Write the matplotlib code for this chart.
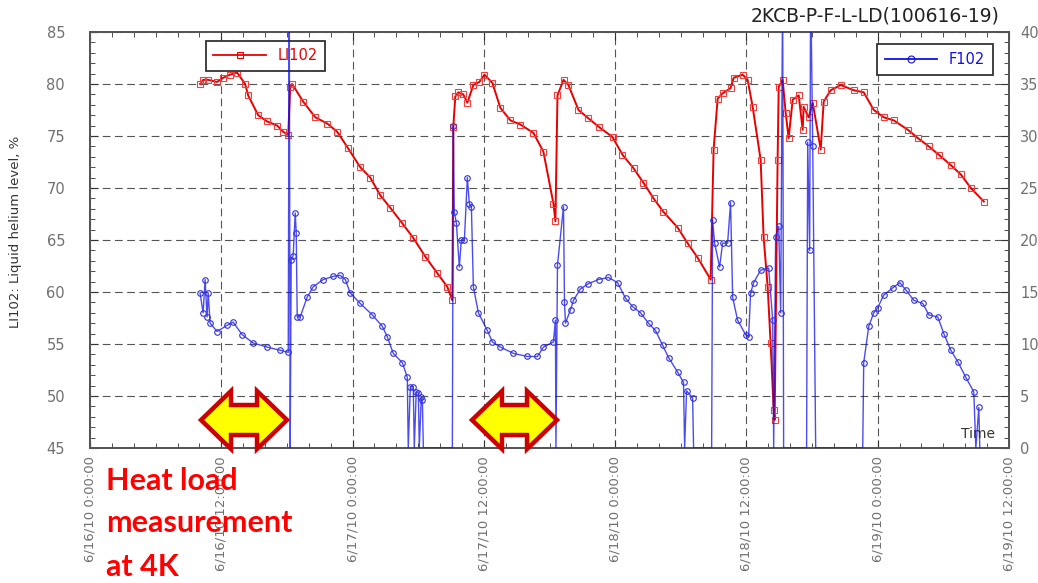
import numpy as np
import matplotlib
matplotlib.use("Agg")
import matplotlib.pyplot as plt
from matplotlib.patches import Polygon
from matplotlib.lines import Line2D

# hours since 6/16/10 0:00:00
li102_h = [10.06, 10.34, 10.80, 11.62, 12.17, 12.81, 13.45, 14.18, 14.46, 15.37, 16.19, 17.11, 17.66, 18.12,
           18.30, 18.48, 19.49, 20.59, 21.68, 22.60, 23.60, 24.70, 25.62, 26.53, 27.45, 28.55, 29.55, 30.65,
           31.75, 32.66, 33.12,
           33.21, 33.39, 33.67, 34.12, 34.49, 35.04, 35.59, 36.05, 36.78, 37.51, 38.43, 39.34, 40.53, 41.44,
           42.36, 42.54,
           42.73, 43.28, 43.73, 44.65, 45.56, 46.48, 47.76, 48.67, 49.68, 50.59, 51.51, 52.42, 53.71, 54.62,
           55.54, 56.73,
           57.00, 57.37, 57.82, 58.55, 58.83, 59.65, 60.11, 60.57, 61.30, 61.57, 61.94, 62.21, 62.49, 62.58,
           62.85, 62.95, 63.31, 63.59, 63.86, 64.23, 64.78, 65.14, 65.23, 65.69, 66.06, 66.79, 67.06, 67.70,
           68.62, 69.81, 70.72, 71.64, 72.55, 73.47, 74.75, 75.66, 76.67, 77.58, 78.68, 79.60, 80.51, 81.70]
li102_v = [80.0, 80.4, 80.4, 80.2, 80.6, 80.9, 81.1, 80.0, 78.9, 77.0, 76.4, 76.0, 75.4, 75.1,
           79.7, 80.0, 78.3, 76.8, 76.2, 75.4, 73.8, 72.0, 71.0, 69.3, 68.1, 66.6, 65.2, 63.4,
           61.8, 60.5, 59.2,
           75.9, 78.8, 79.2, 79.0, 78.2, 79.9, 80.2, 80.9, 80.1, 77.7, 76.5, 76.1, 75.3, 73.5,
           68.5, 66.8,
           78.9, 80.4, 79.9, 77.5, 76.7, 75.9, 74.9, 73.2, 71.9, 70.5, 69.0, 67.7, 66.2, 64.7,
           63.3, 61.2,
           73.7, 78.6, 79.1, 79.6, 80.6, 80.9, 80.4, 77.8, 72.7, 65.3, 60.5, 55.1, 48.7, 47.7,
           72.7, 79.7, 80.4, 77.2, 74.8, 78.5, 78.9, 75.6, 77.8, 76.8, 78.2, 73.7, 78.3, 79.4,
           79.9, 79.4, 79.2, 77.5, 76.8, 76.5, 75.6, 74.8, 74.0, 73.2, 72.2, 71.3, 70.0, 68.7]

f102_h = [10.06, 10.34, 10.52, 10.70, 10.80, 10.98, 11.62, 12.53, 13.08, 13.91, 14.91, 16.19, 17.38, 18.12,
          18.21, 18.30, 18.39, 18.57, 18.76, 18.85, 18.94, 19.21, 19.85, 20.40, 21.32, 22.23, 22.87, 23.33,
          23.79, 24.70, 25.80, 26.72, 27.17, 27.72, 28.55, 29.00, 29.09, 29.28, 29.55, 29.64, 29.82, 30.01,
          30.10, 30.28, 30.38, 30.47, 33.12,
          33.21, 33.30, 33.49, 33.76, 33.94, 34.22, 34.49, 34.67, 34.86, 35.04, 35.50, 36.32, 36.78, 37.51,
          38.70, 39.98, 40.90, 41.44, 42.36, 42.54, 42.59,
          42.73, 43.28, 43.37, 43.46, 43.92, 44.19, 44.83, 45.56, 46.48, 47.39, 48.22, 48.95, 49.59, 50.32,
          51.05, 51.69, 52.33, 52.88, 53.71, 54.25, 54.35, 54.53, 55.08, 55.17, 56.82,
          56.91, 57.09, 57.55, 57.82, 58.28, 58.55, 58.74, 59.19, 59.92, 60.20, 60.38, 60.66, 61.30, 62.03,
          62.40, 62.49, 62.67, 62.95, 63.13, 63.31, 63.40, 65.50, 65.60, 65.78, 65.87, 66.06, 66.33, 70.63,
          70.72, 71.18, 71.64, 72.00, 72.55, 73.38, 74.02, 74.57, 75.30, 76.12, 76.67, 77.49, 78.04, 78.68,
          79.32, 80.05, 80.78, 80.97, 81.24, 81.33]
f102_v = [14.9, 13.0, 16.2, 12.6, 14.9, 12.0, 11.2, 11.8, 12.1, 10.9, 10.1, 9.7, 9.4, 9.2,
          45.0, 0.0, 18.1, 18.5, 22.6, 20.7, 12.6, 12.6, 14.5, 15.5, 16.2, 16.5, 16.6, 16.2,
          14.9, 13.9, 12.8, 11.7, 10.7, 9.1, 8.2, 6.8, 0.0, 5.9, 5.9, 0.0, 5.4, 5.3,
          0.0, 4.9, 4.6, 0.0, 0.0,
          31.0, 22.7, 21.6, 17.4, 20.0, 20.0, 26.0, 23.5, 23.2, 15.5, 13.0, 11.3, 10.2, 9.7,
          9.1, 8.8, 8.8, 9.7, 10.2, 12.3, 0.0,
          17.6, 23.2, 14.0, 12.0, 13.3, 14.2, 15.3, 15.8, 16.2, 16.4, 15.9, 14.4, 13.6, 13.0,
          12.0, 11.3, 9.9, 8.7, 7.3, 6.3, 0.0, 5.5, 4.8, 0.0, 0.0,
          21.9, 19.7, 17.4, 19.7, 19.7, 23.6, 14.5, 12.3, 10.9, 10.7, 14.9, 15.9, 17.1, 17.3,
          12.3, 0.0, 20.3, 21.3, 13.0, 45.0, 0.0, 0.0, 29.4, 19.0, 45.0, 29.0, 0.0, 0.0,
          8.2, 11.7, 13.0, 13.5, 14.7, 15.4, 15.9, 15.2, 14.2, 13.9, 12.8, 12.6, 11.0, 9.4,
          8.3, 6.8, 5.4, 0.0, 3.9, 0.0]

x_ticks = [0, 12, 24, 36, 48, 60, 72, 84]
x_labels = ["6/16/10 0:00:00", "6/16/10 12:00:00", "6/17/10 0:00:00", "6/17/10 12:00:00",
            "6/18/10 0:00:00", "6/18/10 12:00:00", "6/19/10 0:00:00", "6/19/10 12:00:00"]

W, H = 1038, 583
fig = plt.figure(figsize=(W / 100, H / 100), dpi=100)
ax = fig.add_axes([90 / W, 1 - 448 / H, 919 / W, 416 / H])
ax2 = ax.twinx()

red = "#e80000"
blue = "#1010e8"
gray = "#707070"

ax.plot(li102_h, li102_v, color=red, lw=1.4, marker="s", ms=4, mfc="none", mec="#f04040", mew=0.8, zorder=3)

fh = np.array(f102_h)
fv = np.array(f102_v)
ax2.plot(fh, fv, color=blue, lw=1.0, alpha=0.75, zorder=3)
keep = (fv > 0) & (fv < 40)
ax2.plot(fh[keep], fv[keep], ls="none", marker="o", ms=4, mfc="none", mec="#3030e0", mew=0.8, zorder=3)

ax.set_xlim(0, 84)
ax.set_ylim(45, 85)
ax2.set_ylim(0, 40)
ax.set_xticks(x_ticks)
ax.set_xticklabels(x_labels, rotation=90, fontsize=9.5, color=gray)
ax.set_xticks(np.arange(0, 85, 2), minor=True)
ax.set_yticks(np.arange(45, 86, 5))
ax.set_yticks(np.arange(45, 86, 1), minor=True)
ax2.set_yticks(np.arange(0, 41, 5))
ax2.set_yticks(np.arange(0, 41, 1), minor=True)

ax.tick_params(axis="x", which="both", direction="in", top=True, colors="#333", labelcolor=gray, pad=6)
ax.tick_params(axis="x", which="major", length=6)
ax.tick_params(axis="x", which="minor", length=3.5)
ax.tick_params(axis="y", which="both", direction="in", labelsize=10.5, colors="#333", labelcolor=gray, pad=18)
ax.tick_params(axis="y", which="major", length=6)
ax.tick_params(axis="y", which="minor", length=3.5)
ax2.tick_params(axis="y", which="both", direction="in", labelsize=10.5, colors="#333", labelcolor=gray, pad=8)
ax2.tick_params(axis="y", which="major", length=6)
ax2.tick_params(axis="y", which="minor", length=3.5)

ax.grid(True, which="major", color="#555", ls=(0, (7, 4)), lw=0.8)
for a in (ax, ax2):
    for s in a.spines.values():
        s.set_color("#555")
        s.set_linewidth(1.3)

ax.set_ylabel("LI102: Liquid helium level, %", fontsize=9.5, color="#333")
ax.yaxis.set_label_coords(-0.074, 0.52)

ax.text(0.966, 0.034, "Time", transform=ax.transAxes, ha="center", va="center", fontsize=10, color="#333")

fig.text(1000 / W, 1 - 16 / H, "2KCB-P-F-L-LD(100616-19)", ha="right", va="center", fontsize=13.5, color="#222")

h1 = Line2D([], [], color=red, lw=1.3, marker="s", ms=5, mfc="none", mec=red, mew=0.8)
leg1 = ax.legend([h1], ["LI102"], loc="upper left", bbox_to_anchor=(206 / W, 1 - 41 / H),
                 bbox_transform=fig.transFigure, borderaxespad=0, fancybox=False, framealpha=1,
                 edgecolor="#333", fontsize=10.5, handlelength=3.6, borderpad=0.5, labelcolor=red)
leg1.get_frame().set_linewidth(1.3)
h2 = Line2D([], [], color=blue, lw=1.3, marker="o", ms=5, mfc="none", mec=blue, mew=0.8)
leg2 = ax2.legend([h2], ["F102"], loc="upper right", bbox_to_anchor=(993 / W, 1 - 44 / H),
                  bbox_transform=fig.transFigure, borderaxespad=0, fancybox=False, framealpha=1,
                  edgecolor="#333", fontsize=10.5, handlelength=3.6, borderpad=0.55, labelcolor=blue)
leg2.get_frame().set_linewidth(1.3)


def arrow(x0, x1, yc):
    hl, hh, sh = 30, 29, 15
    pts = [(x0, yc), (x0 + hl, yc - hh), (x0 + hl, yc - sh), (x1 - hl, yc - sh), (x1 - hl, yc - hh),
           (x1, yc), (x1 - hl, yc + hh), (x1 - hl, yc + sh), (x0 + hl, yc + sh), (x0 + hl, yc + hh)]
    pts = [(px / W, 1 - py / H) for px, py in pts]
    fig.patches.append(Polygon(pts, closed=True, transform=fig.transFigure, facecolor="#ffff00",
                               edgecolor="#cc0000", lw=3.2, joinstyle="miter", zorder=5))


arrow(201, 287, 420)
arrow(472, 557, 420)

for txt, base in [("Heat load", 490), ("measurement", 532), ("at 4K", 576)]:
    fig.text(106 / W, 1 - base / H, txt, ha="left", va="baseline", fontsize=22, color="#ff0000",
             family=["Lato", "DejaVu Sans"], fontweight="bold", zorder=6)

fig.savefig("out.png", dpi=100)
